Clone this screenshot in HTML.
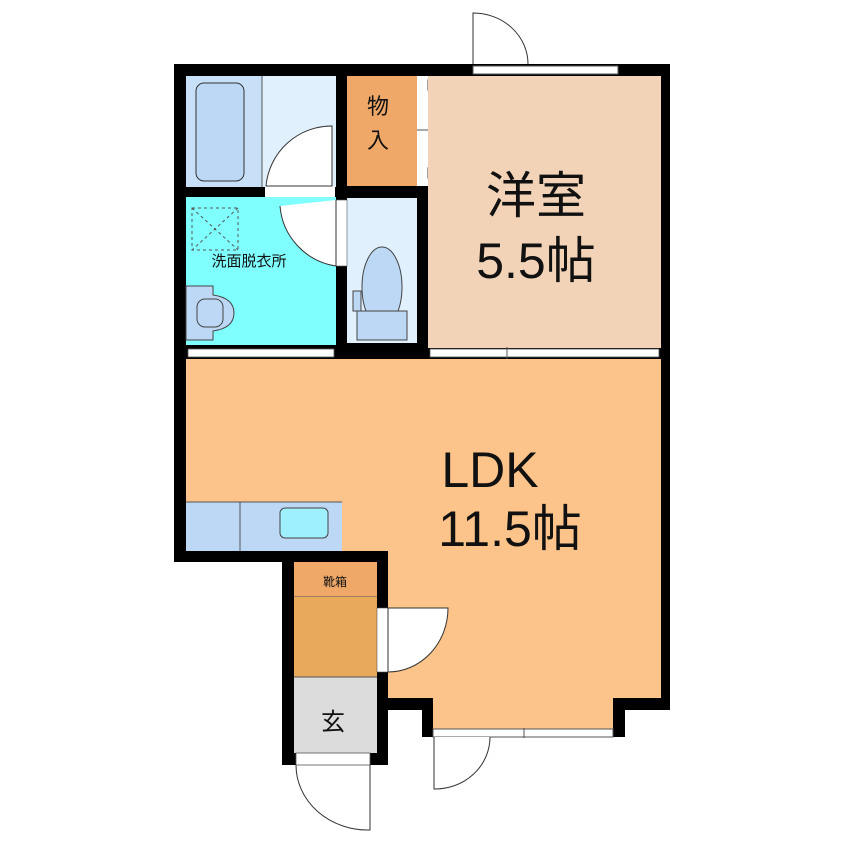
<!DOCTYPE html>
<html><head><meta charset="utf-8"><style>
html,body{margin:0;padding:0;background:#fff;}
svg{display:block;}
text{font-family:"Liberation Sans","Noto Sans CJK JP",sans-serif;fill:#111;}
</style></head><body>
<svg width="846" height="846" viewBox="0 0 846 846" xmlns="http://www.w3.org/2000/svg">
<rect width="846" height="846" fill="#fff"/>
<!-- walls base (black) -->
<rect x="174" y="64" width="496" height="498" fill="#000"/>
<rect x="282" y="550" width="106" height="215" fill="#000"/>
<rect x="370" y="550" width="300" height="160" fill="#000"/>
<rect x="422" y="690" width="203" height="47" fill="#000"/>
<!-- rooms -->
<rect x="186" y="76" width="76" height="111" fill="#c7dff7"/>
<rect x="262" y="76" width="74" height="111" fill="#e0f0fc"/>
<rect x="196" y="83" width="48" height="98" rx="8" fill="#bcd8f5" stroke="#333" stroke-width="1"/>
<line x1="262" y1="76" x2="262" y2="187" stroke="#555" stroke-width="1"/>
<rect x="347" y="76" width="70" height="110" fill="#f0a868"/>
<rect x="417" y="76" width="11" height="110" fill="#fff"/>
<line x1="417" y1="130" x2="428" y2="130" stroke="#555"/>
<polygon points="428,80 445,87 428,90" fill="#fff" stroke="#444"/>
<polygon points="428,168 445,175 428,178" fill="#fff" stroke="#444"/>
<rect x="428" y="76" width="233" height="272" fill="#f2d3b7"/>
<rect x="186" y="197" width="150" height="148" fill="#80ffff"/>
<rect x="192" y="208" width="46" height="42" fill="none" stroke="#555" stroke-dasharray="3,3"/>
<line x1="192" y1="208" x2="238" y2="250" stroke="#555" stroke-dasharray="3,3"/>
<line x1="238" y1="208" x2="192" y2="250" stroke="#555" stroke-dasharray="3,3"/>
<path d="M186 286 H213 V295 Q234 298 234 313 Q234 328 213 331 V340 H186 Z" fill="#bcd8f5" stroke="#444"/>
<rect x="197" y="299" width="26" height="28" rx="8" fill="#bcd8f5" stroke="#444"/>
<rect x="347" y="198" width="70" height="145" fill="#e0f0fc"/>
<ellipse cx="382" cy="287" rx="20" ry="40" fill="#bcd8f5" stroke="#444"/>
<rect x="357" y="311" width="50" height="29" fill="#bcd8f5" stroke="#444"/>
<rect x="353" y="291" width="8" height="20" fill="#bcd8f5" stroke="#444"/>
<!-- LDK -->
<polygon points="186,359 661,359 661,698 388,698 388,551 186,551" fill="#fcc48a"/>
<rect x="433" y="698" width="180" height="31" fill="#fcc48a"/>
<rect x="186" y="502" width="156" height="49" fill="#bcd8f5"/>
<line x1="240" y1="502" x2="240" y2="551" stroke="#555"/>
<line x1="186" y1="502" x2="342" y2="502" stroke="#555"/>
<rect x="280" y="508" width="48" height="30" rx="5" fill="#9ff0ff" stroke="#444"/>
<rect x="294" y="562" width="83" height="35" fill="#f0a868"/>
<line x1="294" y1="597" x2="377" y2="597" stroke="#555"/>
<rect x="294" y="597" width="83" height="80" fill="#e8aa5a"/>
<rect x="294" y="677" width="83" height="76" fill="#dcdcdc"/>
<line x1="294" y1="677" x2="377" y2="677" stroke="#555"/>
<!-- openings / windows -->
<rect x="473" y="66" width="145" height="8" fill="#fff" stroke="#555" stroke-width="1"/>
<rect x="188" y="349" width="146" height="8" fill="#fff" stroke="#555" stroke-width="0.8"/>
<rect x="430" y="349" width="229" height="8" fill="#fff" stroke="#555" stroke-width="0.8"/>
<line x1="507" y1="347" x2="507" y2="359" stroke="#555"/>
<rect x="433" y="729" width="180" height="8" fill="#fff" stroke="#555" stroke-width="1"/>
<line x1="524" y1="728" x2="524" y2="738" stroke="#555"/>
<rect x="296" y="753" width="74" height="12" fill="#fff" stroke="#555" stroke-width="0.8"/>
<!-- doors -->
<rect x="265" y="186" width="70" height="11" fill="#fff"/>
<path d="M266 186 A66 66 0 0 1 332 126 V186 Z" fill="#fff" stroke="#333"/>
<rect x="336" y="200" width="11" height="66" fill="#fff" stroke="#555" stroke-width="0.6"/>
<path d="M336 200 V266 A66 66 0 0 1 280 206" fill="#fff" stroke="#333"/>
<path d="M473 64 V13 A55 51 0 0 1 528 64" fill="#fff" stroke="#333"/>
<rect x="377" y="608" width="11" height="64" fill="#fff" stroke="#555" stroke-width="0.6"/>
<path d="M388 608 H448 A60 64 0 0 1 388 672 Z" fill="#fff" stroke="#333"/>
<path d="M434 737 V789 A55 52 0 0 0 490 737" fill="#fff" stroke="#333"/>
<path d="M370 765 V830 A72 65 0 0 1 296 765" fill="none" stroke="#333"/>
<!-- labels -->
<text x="378" y="114" font-size="22" text-anchor="middle">物</text>
<text x="378" y="148" font-size="22" text-anchor="middle">入</text>
<text x="536" y="213" font-size="50" text-anchor="middle">洋室</text>
<text x="536" y="278" font-size="50" text-anchor="middle">5.5帖</text>
<text x="249" y="266" font-size="15" text-anchor="middle">洗面脱衣所</text>
<text x="490" y="487" font-size="50" text-anchor="middle">LDK</text>
<text x="510" y="546" font-size="50" text-anchor="middle">11.5帖</text>
<text x="335" y="586" font-size="12" text-anchor="middle">靴箱</text>
<text x="333" y="730" font-size="24" text-anchor="middle">玄</text>
</svg>
</body></html>
